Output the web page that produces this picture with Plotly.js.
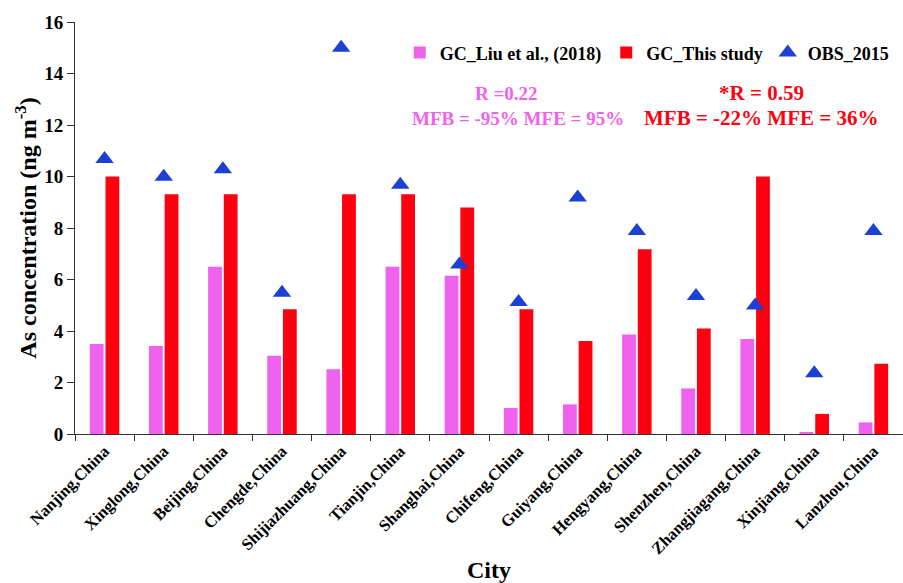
<!DOCTYPE html>
<html>
<head>
<meta charset="utf-8">
<script src="https://cdn.plot.ly/plotly-3.0.1.min.js"></script>
<style>html,body{margin:0;padding:0;background:#fff}#chart{width:903px;height:583px}</style>
</head>
<body>
<div id="chart"></div>
<script>
const cities = ["Nanjing,China","Xinglong,China","Beijing,China","Chengde,China","Shijiazhuang,China","Tianjin,China","Shanghai,China","Chifeng,China","Guiyang,China","Hengyang,China","Shenzhen,China","Zhangjiagang,China","Xinjiang,China","Lanzhou,China"];
const gcLiu = [3.50, 3.42, 6.50, 3.04, 2.51, 6.50, 6.15, 1.01, 1.15, 3.86, 1.77, 3.69, 0.08, 0.45];
const gcThis = [10.0, 9.31, 9.31, 4.84, 9.31, 9.31, 8.80, 4.84, 3.61, 7.17, 4.10, 10.0, 0.78, 2.73];
const obs2015 = [10.68, 9.99, 10.28, 5.49, 15.0, 9.68, 6.58, 5.13, 9.18, 7.88, 5.36, 4.99, 2.36, 7.88];

const FONT = "Liberation Serif, Times New Roman, serif";
const PINK = "#EF62EE", RED = "#FF0010", BLUE = "#1C40D4";

const traces = [
  {type:"bar", name:"GC_Liu et al., (2018)", x:cities, y:gcLiu, marker:{color:PINK}},
  {type:"bar", name:"GC_This study", x:cities, y:gcThis, marker:{color:RED}},
  {type:"scatter", mode:"markers", name:"OBS_2015", x:cities, y:obs2015,
   marker:{symbol:"triangle-up", size:16, color:BLUE}}
];

const layout = {
  width:903, height:583,
  margin:{l:75, r:0, t:22, b:149},
  paper_bgcolor:"#fff", plot_bgcolor:"#fff",
  font:{family:FONT, color:"#000"},
  barmode:"group", bargap:0.47, bargroupgap:0.12,
  showlegend:true,
  legend:{orientation:"h", x:0.99, xanchor:"right", y:0.925, yanchor:"middle",
          font:{family:FONT, size:18, color:"#000", weight:"bold"}, bgcolor:"rgba(0,0,0,0)",
          itemwidth:30, tracegroupgap:0},
  xaxis:{type:"category", range:[-0.5,13.5], showline:true, linecolor:"#333", linewidth:1,
         ticks:"outside", tickson:"boundaries", ticklen:6, tickcolor:"#333",
         tickangle:-45, tickfont:{family:FONT, size:16.5, weight:"bold"},
         title:{text:"City", font:{family:FONT, size:24, weight:"bold"}, standoff:8},
         showgrid:false, zeroline:false, automargin:false},
  yaxis:{range:[0,16], dtick:2, showline:true, linecolor:"#333", linewidth:1,
         ticks:"outside", ticklen:7, tickcolor:"#333",
         tickfont:{family:FONT, size:19, weight:"bold"},
         title:{text:"As concentration (ng m<sup>-3</sup>)", font:{family:FONT, size:24, weight:"bold"}, standoff:0},
         showgrid:false, zeroline:false, automargin:false},
  annotations:[
    {xref:"paper", yref:"paper", x:(506-75)/828, y:(434-93)/412, xanchor:"center", yanchor:"middle", text:"R =0.22", showarrow:false,
     font:{family:FONT, size:19, color:PINK, weight:"bold"}},
    {xref:"paper", yref:"paper", x:(518-75)/828, y:(434-118)/412, xanchor:"center", yanchor:"middle", text:"MFB = -95% MFE = 95%", showarrow:false,
     font:{family:FONT, size:19, color:PINK, weight:"bold"}},
    {xref:"paper", yref:"paper", x:(761-75)/828, y:(434-93)/412, xanchor:"center", yanchor:"middle", text:"*R = 0.59", showarrow:false,
     font:{family:FONT, size:21, color:RED, weight:"bold"}},
    {xref:"paper", yref:"paper", x:(761-75)/828, y:(434-118)/412, xanchor:"center", yanchor:"middle", text:"MFB = -22% MFE = 36%", showarrow:false,
     font:{family:FONT, size:21, color:RED, weight:"bold"}}
  ]
};

Plotly.newPlot("chart", traces, layout, {displayModeBar:false, staticPlot:true});
</script>
</body>
</html>
